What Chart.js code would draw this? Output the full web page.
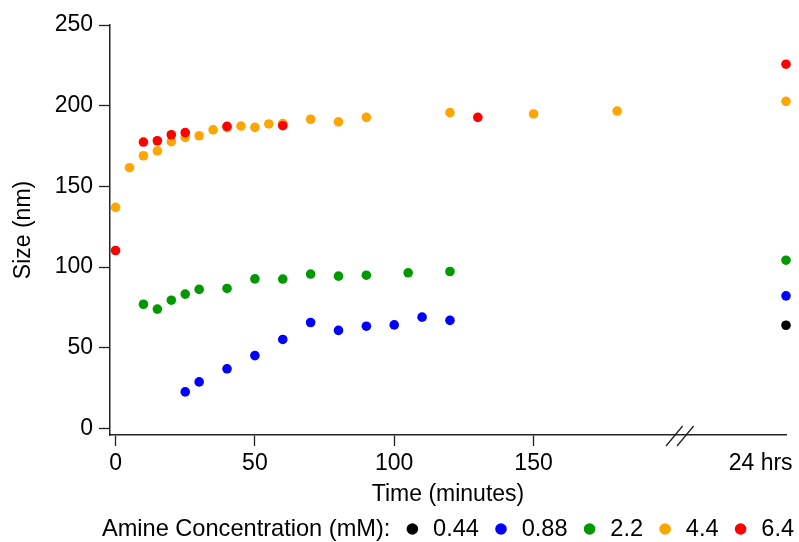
<!DOCTYPE html>
<html>
<head>
<meta charset="utf-8">
<script src="https://cdn.jsdelivr.net/npm/chart.js@4"></script>
<style>
  html, body { margin: 0; padding: 0; background: #fff; }
  #wrap { width: 799px; height: 542px; }
</style>
</head>
<body>
<div id="wrap"><canvas id="chart" width="799" height="542"></canvas></div>
<script>
// concentrations (mM) for each series
var concLabels = ["0.44", "0.88", "2.2", "4.4", "6.4"];
var concColors = ["#000000", "#0000ff", "#009900", "#ffa500", "#ff0000"];

// time in minutes; the last point of each series is the 24 hr reading, shown past the axis break
var DAY = 240.6;
var time044 = [DAY];
var size044 = [64];
var time088 = [25, 30, 40, 50, 60, 70, 80, 90, 100, 110, 120, DAY];
var size088 = [22.7, 28.9, 37, 45.2, 55.2, 65.7, 60.8, 63.4, 64.2, 69, 67, 82.2];
var time22 = [10, 15, 20, 25, 30, 40, 50, 60, 70, 80, 90, 105, 120, DAY];
var size22 = [77, 74, 79.5, 83.3, 86.2, 86.8, 92.7, 92.6, 95.7, 94.4, 95, 96.5, 97.3, 104.3];
var time44 = [0, 5, 10, 15, 20, 25, 30, 35, 40, 45, 50, 55, 60, 70, 80, 90, 120, 150, 180, DAY];
var size44 = [137, 161.6, 169, 172, 177.7, 180.4, 181.4, 185, 186.4, 187.4, 186.6, 188.7, 189, 191.6, 190, 192.8, 195.7, 194.9, 196.7, 202.7];
var time64 = [0, 10, 15, 20, 25, 40, 60, 130, DAY];
var size64 = [110.3, 177.5, 178.3, 182, 183.3, 187.2, 187.6, 192.8, 225.7];

var xTicks = [0, 50, 100, 150, 231.5];
var dayTickLabel = "24 hrs";
var yTicks = [0, 50, 100, 150, 200, 250];
var breakAt = 202.5;

var FONT = { family: "'Liberation Sans', Arial, Helvetica, sans-serif", size: 23 };
var LEGEND_SIZE = 23.6;

var times = [time044, time088, time22, time44, time64];
var sizes = [size044, size088, size22, size44, size64];

function pairs(xs, ys) {
  var out = [];
  for (var i = 0; i < xs.length; i++) {
    out.push({x: xs[i], y: ys[i]});
  }
  return out;
}

var datasets = [];
for (var i = 0; i < concLabels.length; i++) {
  datasets.push({
    label: concLabels[i],
    data: pairs(times[i], sizes[i]),
    backgroundColor: concColors[i],
    borderWidth: 0,
    pointRadius: 4.8,
    pointHoverRadius: 4.8,
    order: concLabels.length - i,
    clip: false
  });
}

// the "//" marks on the x axis
var axisBreak = {
  id: "axisBreak",
  afterDraw: function(chart) {
    var ctx = chart.ctx;
    var x = chart.scales.x.getPixelForValue(breakAt);
    var y = chart.chartArea.bottom;
    ctx.save();
    ctx.strokeStyle = "#222";
    ctx.lineWidth = 1.3;
    [-5.5, 5.5].forEach(function(dx) {
      ctx.beginPath();
      ctx.moveTo(x + dx - 8.3, y + 11);
      ctx.lineTo(x + dx + 8.3, y - 9);
      ctx.stroke();
    });
    ctx.restore();
  }
};

// one-line legend with a lead-in label
var inlineLegend = {
  id: "inlineLegend",
  afterDraw: function(chart) {
    var ctx = chart.ctx;
    var lead = "Amine Concentration (mM):";
    ctx.save();
    ctx.font = LEGEND_SIZE + "px " + FONT.family;
    ctx.textBaseline = "middle";
    ctx.fillStyle = "#000";
    var total = ctx.measureText(lead).width;
    for (var i = 0; i < concLabels.length; i++) {
      total += 22 + 20.7 + ctx.measureText(concLabels[i]).width;
    }
    var area = chart.chartArea;
    var x = (area.left + area.right) / 2 - total / 2;
    var y = 529;
    ctx.fillText(lead, x, y);
    x += ctx.measureText(lead).width;
    for (var j = 0; j < concLabels.length; j++) {
      var cx = x + 22;
      ctx.beginPath();
      ctx.fillStyle = concColors[j];
      ctx.arc(cx, y, 5.8, 0, Math.PI * 2);
      ctx.fill();
      ctx.fillStyle = "#000";
      ctx.fillText(concLabels[j], cx + 20.7, y);
      x = cx + 20.7 + ctx.measureText(concLabels[j]).width;
    }
    ctx.restore();
  }
};

new Chart(document.getElementById("chart"), {
  type: "scatter",
  data: { datasets: datasets },
  options: {
    responsive: false,
    animation: false,
    layout: { padding: { top: 25, right: 13, bottom: 30, left: 0 } },
    plugins: {
      legend: { display: false },
      tooltip: { enabled: false }
    },
    scales: {
      x: {
        type: "linear",
        min: -2,
        max: DAY,
        afterBuildTicks: function(scale) {
          scale.ticks = xTicks.map(function(v) { return {value: v}; });
        },
        afterFit: function(scale) { scale.height = 77; },
        border: { display: true, color: "#222", width: 1.5 },
        grid: {
          drawOnChartArea: false,
          drawTicks: true,
          tickLength: 11,
          tickWidth: 1.3,
          tickColor: function(c) {
            return c.tick && c.tick.value > breakAt ? "rgba(0,0,0,0)" : "#222";
          }
        },
        ticks: {
          color: "#000",
          font: FONT,
          padding: 4,
          maxRotation: 0,
          autoSkip: false,
          callback: function(v) { return v > breakAt ? dayTickLabel : v; }
        },
        title: {
          display: true,
          text: "Time (minutes)",
          color: "#000",
          font: FONT,
          padding: { top: 0, bottom: 4 }
        }
      },
      y: {
        type: "linear",
        min: -4,
        max: 250,
        afterBuildTicks: function(scale) {
          scale.ticks = yTicks.map(function(v) { return {value: v}; });
        },
        afterFit: function(scale) { scale.width = 110; },
        border: { display: true, color: "#222", width: 1.5 },
        grid: {
          drawOnChartArea: false,
          drawTicks: true,
          tickLength: 11,
          tickWidth: 1.3,
          tickColor: "#222"
        },
        ticks: {
          color: "#000",
          font: FONT,
          padding: 6
        },
        title: {
          display: true,
          text: "Size (nm)",
          color: "#000",
          font: FONT,
          padding: { top: 10, bottom: 0 }
        }
      }
    }
  },
  plugins: [axisBreak, inlineLegend]
});
</script>
</body>
</html>
